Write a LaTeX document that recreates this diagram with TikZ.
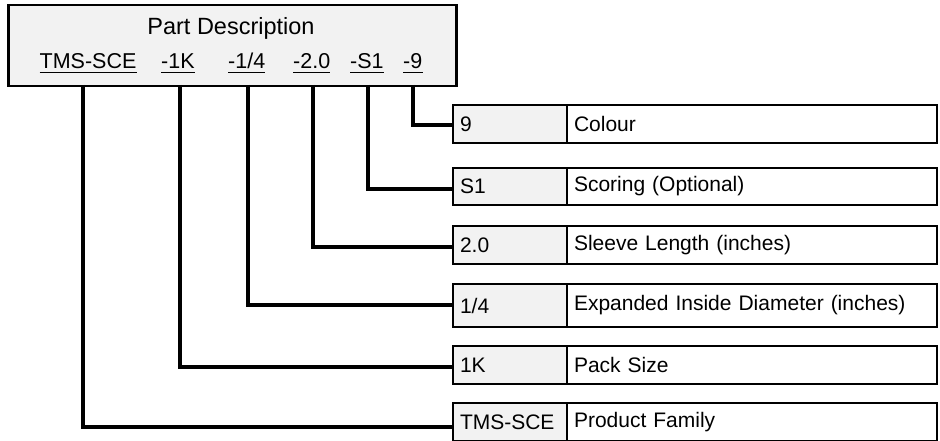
\documentclass[tikz,border=0pt]{standalone}
\usepackage{fontspec}
\setmainfont{Liberation Sans}
\definecolor{cellgray}{HTML}{F2F2F2}
\begin{document}
\begin{tikzpicture}[x=1pt,y=-1pt,
  every node/.style={font=\fontsize{21}{24}\selectfont},
  topbox/.style={draw, line width=2.5pt, fill=cellgray, anchor=north west, minimum width=448pt, minimum height=81pt, inner sep=0pt},
  code/.style={anchor=base west, inner sep=0pt, font=\fontsize{21.5}{24}\selectfont},
  keycell/.style={draw, line width=2pt, fill=cellgray, anchor=north west, minimum width=114pt, text width=100pt, inner xsep=7pt, inner ysep=0pt, align=left},
  desccell/.style={draw, line width=2pt, fill=white, anchor=north west, minimum width=370pt, text width=356pt, inner xsep=7pt, inner ysep=0pt, align=left},
  conn/.style={line width=4pt, line join=miter},
  uline/.style={line width=1.3pt}
]
\useasboundingbox (0,0) rectangle (940,441);
% top box
\node[topbox] (top) at (7,4) {};
\node[anchor=base, inner sep=0pt, font=\fontsize{23.5}{26}\selectfont] (title) at (231,34.5) {Part Description};
\node[code] (c1) at (39.5,69) {TMS-SCE};
\node[code] (c2) at (161,69) {-1K};
\node[code] (c3) at (228,69) {-1/4};
\node[code] (c4) at (293,69) {-2.0};
\node[code] (c5) at (350,69) {-S1};
\node[code] (c6) at (403,69) {-9};
\foreach \c in {c1,c2,c3,c4,c5,c6}
  \draw[uline] ([yshift=-3.3pt]\c.base west) -- ([yshift=-3.3pt]\c.base east);

% right boxes
\foreach \n/\t/\h/\k/\d in {a/104/38/9/Colour, b/167/37/S1/Scoring (Optional), c/225/38/2.0/Sleeve Length (inches), d/283/43/1\slash 4/Expanded Inside Diameter (inches), e/345/38/1K/Pack Size, f/402/38/TMS-SCE/Product Family}{
  \node[keycell, minimum height=\h pt] (k\n) at (452,\t) {\k};
  \node[desccell, minimum height=\h pt] (d\n) at (566,\t) {\d};
}

% connectors
\coordinate (v6) at (413,85);
\coordinate (v5) at (368,85);
\coordinate (v4) at (313,85);
\coordinate (v3) at (248,85);
\coordinate (v2) at (180,85);
\coordinate (v1) at (83,85);
\draw[conn] (v6) |- ([yshift=-1pt]ka.west);
\draw[conn] (v5) |- ([yshift=-2pt]kb.west);
\draw[conn] (v4) |- ([yshift=-2pt]kc.west);
\draw[conn] (v3) |- ([yshift=1pt]kd.west);
\draw[conn] (v2) |- ([yshift=-2pt]ke.west);
\draw[conn] (v1) |- ([yshift=-5pt]kf.west);
\end{tikzpicture}
\end{document}
